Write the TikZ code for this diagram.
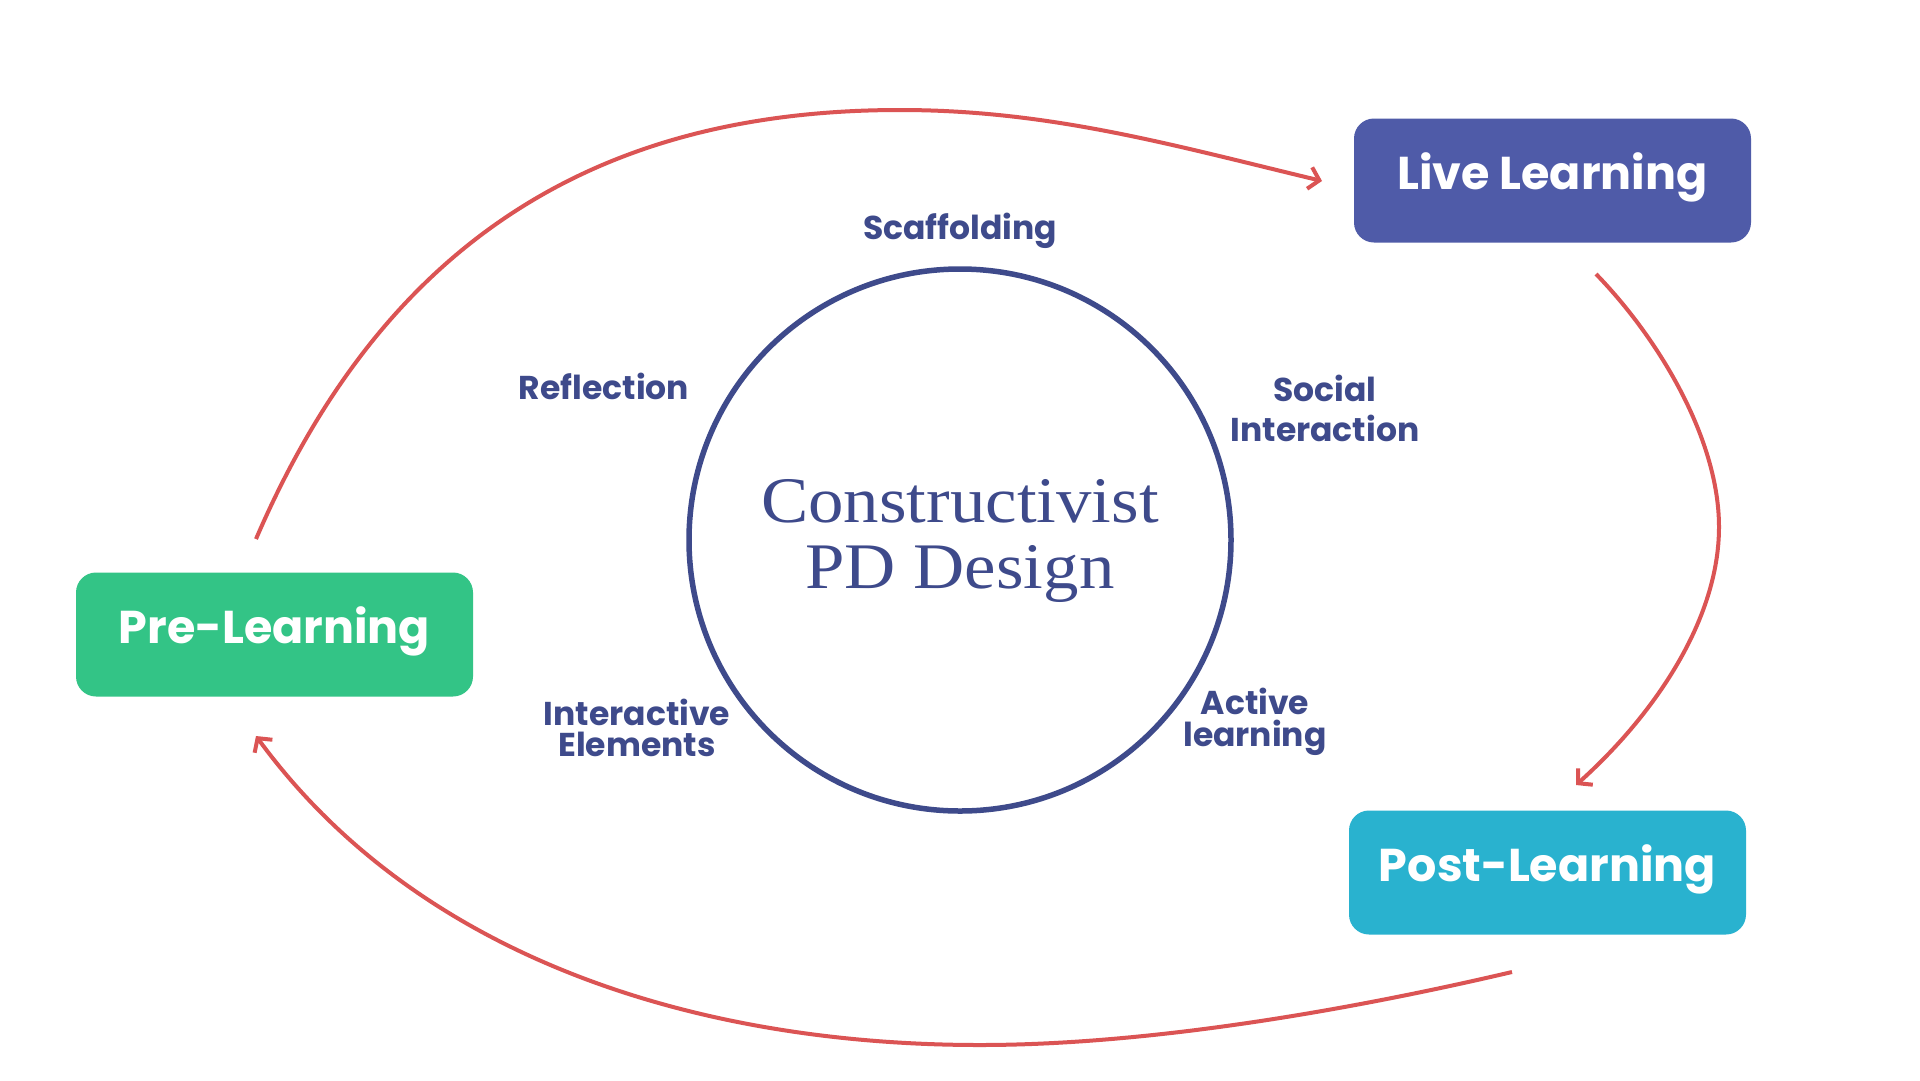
\documentclass[tikz,border=0pt]{standalone}
\usepackage{fontspec}
\setsansfont{Poppins}
\newfontfamily\serifdisp{Liberation Serif}
\usetikzlibrary{arrows.meta}
\definecolor{livec}{HTML}{4F5BA8}
\definecolor{prec}{HTML}{33C486}
\definecolor{postc}{HTML}{29B2CF}
\definecolor{navy}{HTML}{3E4A8B}
\definecolor{arrowred}{HTML}{DB5454}
\tikzset{
  phase/.style={rectangle, rounded corners=20pt, minimum width=397pt, minimum height=124pt,
    text=white, font=\sffamily\bfseries\fontsize{46}{50}\selectfont, inner sep=0pt, text depth=18pt},
  lbl/.style={text=navy, font=\sffamily\bfseries\fontsize{33}{32}\selectfont, align=center, inner sep=0pt},
  flow/.style={draw=arrowred, line width=4pt, -{Straight Barb[length=10pt,width=22pt,line width=4pt]}},
}
\begin{document}
\begin{tikzpicture}[x=1pt,y=-1pt]
\path[use as bounding box, fill=white] (0,0) rectangle (1920,1080);
\node[phase, fill=livec] (live) at (1552.5,180.5) {Live Learning};
\node[phase, fill=prec] (pre) at (274.5,634.5) {Pre-Learning};
\node[phase, fill=postc] (post) at (1547.5,872.5) {Post-Learning};
\node[circle, draw=navy, line width=5.5pt, minimum size=542pt, inner sep=0pt] (core) at (960,540) {};
\node[text=navy, font=\serifdisp\fontsize{65}{66}\selectfont, align=center, transform shape, xscale=1.09] (title) at (960,541) {Constructivist\\PD Design};
\node[lbl] (scaf) at (960,231) {Scaffolding};
\node[lbl] (refl) at (604,386) {Reflection};
\node[lbl, font=\sffamily\bfseries\fontsize{33}{40}\selectfont] (soc) at (1325,408) {Social\\Interaction};
\node[lbl] (act) at (1255,722) {Active\\learning};
\node[lbl, font=\sffamily\bfseries\fontsize{33}{31}\selectfont] (inter) at (637,728) {Interactive\\Elements};
\coordinate (preout) at (256,539);
\coordinate (livein) at (1322,181);
\coordinate (liveout) at (1596,274);
\coordinate (postin) at (1576,785);
\coordinate (postout) at (1512,972);
\coordinate (prein) at (256,736);
\draw[flow] (preout) .. controls (385,239) and (600,110) .. (900,110) .. controls (1050,110) and (1172,145) .. (livein);
\draw[flow] (liveout) .. controls (1660,340) and (1719,440) .. (1719,527) .. controls (1719,620) and (1654,715) .. (postin);
\draw[flow] (postout) .. controls (1350,1010) and (1150,1045) .. (980,1045) .. controls (700,1045) and (420,960) .. (prein);
\end{tikzpicture}
\end{document}
